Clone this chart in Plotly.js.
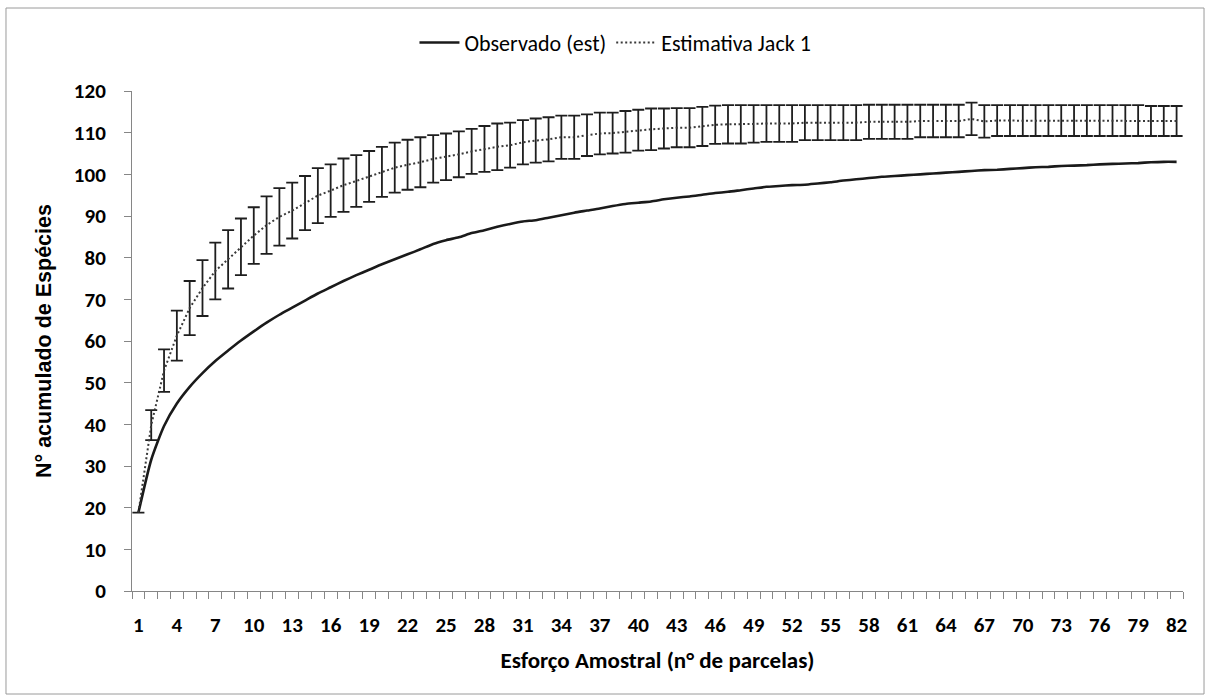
<!DOCTYPE html>
<html>
<head>
<meta charset="utf-8">
<script src="https://cdn.plot.ly/plotly-3.0.1.min.js"></script>
<style>
  html, body { margin: 0; padding: 0; background: #ffffff; }
  #chart { width: 1210px; height: 700px; }
</style>
</head>
<body>
<div id="chart"></div>
<script>
// Curva de acumulação de espécies: observado e estimativa Jackknife 1
const parcelas = [1,2,3,4,5,6,7,8,9,10,11,12,13,14,15,16,17,18,19,20,
  21,22,23,24,25,26,27,28,29,30,31,32,33,34,35,36,37,38,39,40,
  41,42,43,44,45,46,47,48,49,50,51,52,53,54,55,56,57,58,59,60,
  61,62,63,64,65,66,67,68,69,70,71,72,73,74,75,76,77,78,79,80,81,82];

const observado = [18.8,31.5,39.6,45.0,49.0,52.3,55.2,57.7,60.1,62.3,
  64.4,66.3,68.0,69.7,71.4,72.9,74.4,75.8,77.1,78.4,
  79.6,80.8,82.0,83.3,84.2,84.9,85.9,86.6,87.4,88.1,
  88.7,89.0,89.6,90.2,90.8,91.3,91.8,92.4,92.9,93.2,
  93.5,94.0,94.4,94.7,95.1,95.5,95.8,96.2,96.6,97.0,
  97.2,97.4,97.5,97.8,98.1,98.5,98.8,99.1,99.4,99.6,
  99.8,100.0,100.2,100.4,100.6,100.8,101.0,101.1,101.3,101.5,
  101.7,101.8,102.0,102.1,102.2,102.4,102.5,102.6,102.7,102.9,
  103.0,103.0];

const jack1 = [18.8,39.8,52.9,61.3,67.9,72.7,76.8,79.6,82.6,85.3,
  87.8,89.8,91.3,93.1,94.9,96.1,97.4,98.4,99.5,100.6,
  101.6,102.3,102.9,103.7,104.2,104.8,105.5,106.1,106.6,107.0,
  107.7,108.1,108.4,108.9,108.9,109.4,109.8,109.9,110.2,110.6,
  110.8,111.0,111.2,111.2,111.5,111.9,112.0,112.0,112.1,112.2,
  112.2,112.2,112.4,112.4,112.4,112.4,112.4,112.6,112.6,112.6,
  112.6,112.8,112.8,112.8,112.8,113.3,112.7,112.9,112.9,112.9,
  112.9,112.9,112.9,112.9,112.9,112.9,112.9,112.9,112.9,112.8,
  112.8,112.8];

const jack1DP = [0,3.6,5.1,6.0,6.5,6.7,6.8,7.0,6.8,6.8,
  6.9,6.9,6.7,6.5,6.6,6.3,6.4,6.2,6.1,6.0,
  6.0,6.0,6.0,5.7,5.6,5.5,5.4,5.5,5.6,5.4,
  5.3,5.3,5.3,5.2,5.2,5.0,5.0,4.9,5.0,4.9,
  5.0,4.8,4.7,4.7,4.7,4.6,4.6,4.6,4.5,4.4,
  4.4,4.4,4.2,4.2,4.2,4.2,4.2,4.1,4.1,4.1,
  4.1,3.9,3.9,3.9,3.9,3.9,3.9,3.7,3.7,3.7,
  3.7,3.7,3.7,3.7,3.7,3.7,3.7,3.7,3.7,3.6,
  3.6,3.6];

const rotuloX = 'Esforço Amostral (n° de parcelas)';
const rotuloY = 'N° acumulado de Espécies';

const fonteRotulo = 'Carlito, Calibri, Lato, sans-serif';

const traces = [
  {
    x: parcelas, y: observado,
    name: 'Observado (est)',
    type: 'scatter', mode: 'lines',
    line: { color: '#1a1a1a', width: 2.6, shape: 'spline', smoothing: 0.6 }
  },
  {
    x: parcelas, y: jack1,
    name: 'Estimativa Jack 1',
    type: 'scatter', mode: 'lines',
    line: { color: '#3a3a3a', width: 2, dash: '2px,2.5px' },
    error_y: {
      type: 'data', array: jack1DP, visible: true,
      color: '#1e1e1e', thickness: 1.8, width: 6
    }
  }
];

const layout = {
  width: 1210, height: 700,
  paper_bgcolor: '#ffffff', plot_bgcolor: '#ffffff',
  margin: { l: 132, r: 27, t: 91, b: 109 },
  showlegend: true,
  legend: {
    orientation: 'h',
    x: 0.46, xanchor: 'center',
    yref: 'container', y: 0.939, yanchor: 'middle',
    font: { family: fonteRotulo, size: 22, color: '#000000' },
    itemwidth: 40
  },
  xaxis: {
    range: [0.5, 82.5],
    tickmode: 'linear', tick0: 1, dtick: 3,
    ticks: '', showgrid: false, zeroline: false,
    showline: true, linecolor: '#868686', linewidth: 1,
    ticklabelstandoff: 15,
    tickfont: { family: fonteRotulo, size: 21, color: '#000000', weight: 'bold' },
    minor: {
      tick0: 0.5, dtick: 1, ticks: 'outside', ticklen: 7,
      tickcolor: '#868686', tickwidth: 1, showgrid: false
    },
    title: {
      text: rotuloX, standoff: 14,
      font: { family: fonteRotulo, size: 23, color: '#000000', weight: 'bold' }
    }
  },
  yaxis: {
    range: [0, 120],
    tickmode: 'linear', tick0: 0, dtick: 10,
    ticks: 'outside', ticklen: 7, tickcolor: '#868686', tickwidth: 1,
    showgrid: false, zeroline: false,
    showline: true, linecolor: '#868686', linewidth: 1,
    ticklabelstandoff: 14,
    tickfont: { family: fonteRotulo, size: 21, color: '#000000', weight: 'bold' },
    title: {
      text: rotuloY, standoff: 16,
      font: { family: 'Liberation Sans, Arial, sans-serif', size: 21.5, color: '#000000', weight: 'bold' }
    }
  },
  shapes: [
    {
      type: 'rect', xref: 'paper', yref: 'paper',
      x0: -0.1199, x1: 1.020, y0: -0.206, y1: 1.166,
      line: { color: '#9a9a9a', width: 1 }, fillcolor: 'rgba(0,0,0,0)'
    }
  ]
};

Plotly.newPlot('chart', traces, layout, { displayModeBar: false, staticPlot: true });
</script>
</body>
</html>
